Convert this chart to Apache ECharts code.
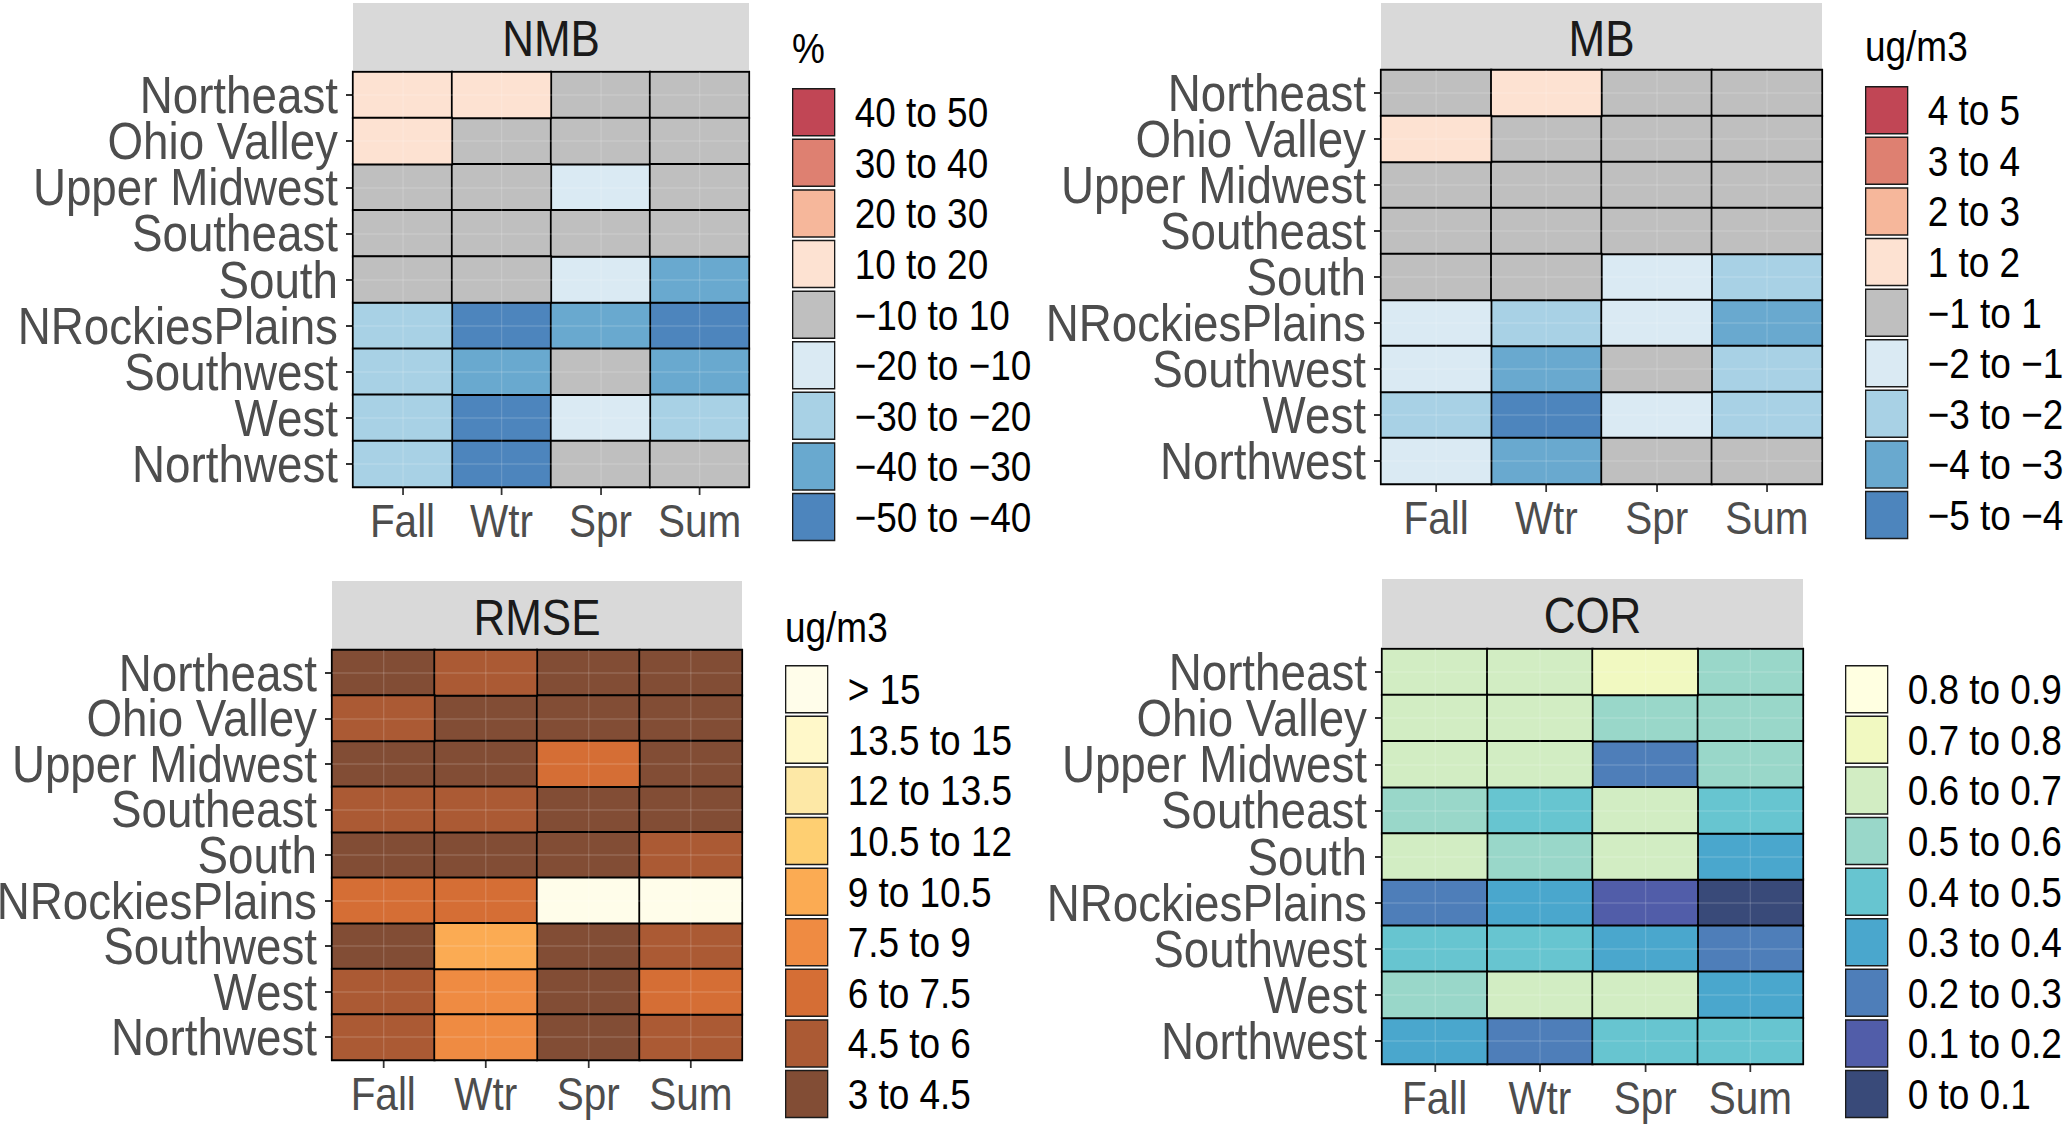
<!DOCTYPE html>
<html>
<head>
<meta charset="utf-8">
<script src="https://cdn.jsdelivr.net/npm/echarts/dist/echarts.min.js"></script>
<style>
html,body{margin:0;padding:0;background:#ffffff;overflow:hidden;width:2067px;height:1124px;}
#chart{width:2349px;height:1124px;transform:scaleX(0.88);transform-origin:0 0;}
</style>
</head>
<body>
<div id="chart"></div>
<script>
// ---------------- data ----------------
const regions = ['Northeast', 'Ohio Valley', 'Upper Midwest', 'Southeast', 'South',
                 'NRockiesPlains', 'Southwest', 'West', 'Northwest'];
const seasons = ['Fall', 'Wtr', 'Spr', 'Sum'];

// NMB (%), rows = regions, cols = seasons
const nmbValues = [
  [14, 12, 4, -5],
  [13, 6, -3, -6],
  [-4, 5, -14, -8],
  [2, 3, -6, -7],
  [-7, -3, -15, -34],
  [-26, -45, -35, -44],
  [-24, -33, -8, -36],
  [-25, -44, -16, -27],
  [-23, -43, -9, -7]
];
// MB (ug/m3)
const mbValues = [
  [0.4, 1.4, -0.3, -0.5],
  [1.3, 0.5, -0.2, -0.6],
  [-0.4, 0.6, -0.8, -0.7],
  [0.2, 0.3, -0.5, -0.6],
  [-0.6, -0.3, -1.4, -2.4],
  [-1.6, -2.5, -1.5, -3.4],
  [-1.5, -3.3, -0.7, -2.6],
  [-2.3, -4.4, -1.6, -2.5],
  [-1.4, -3.5, -0.8, -0.6]
];
// RMSE (ug/m3)
const rmseValues = [
  [4.1, 5.2, 4.0, 4.2],
  [5.0, 4.3, 4.1, 4.4],
  [4.2, 4.4, 6.6, 4.3],
  [5.1, 5.3, 4.2, 4.4],
  [4.3, 4.2, 4.3, 5.2],
  [6.8, 6.9, 16.2, 15.8],
  [4.4, 9.6, 4.1, 5.5],
  [5.4, 8.2, 4.3, 6.9],
  [5.3, 8.4, 4.2, 5.4]
];
// COR
const corValues = [
  [0.66, 0.65, 0.74, 0.56],
  [0.64, 0.63, 0.55, 0.54],
  [0.65, 0.62, 0.26, 0.55],
  [0.57, 0.46, 0.63, 0.45],
  [0.64, 0.53, 0.62, 0.35],
  [0.25, 0.36, 0.15, 0.06],
  [0.44, 0.45, 0.34, 0.24],
  [0.55, 0.66, 0.61, 0.37],
  [0.34, 0.27, 0.44, 0.46]
];

// class breaks and labels (low -> high)
const M = '\u2212';
const nmbBreaks = [-50, -40, -30, -20, -10, 10, 20, 30, 40, 50];
const nmbLabels = [M+'50 to '+M+'40', M+'40 to '+M+'30', M+'30 to '+M+'20', M+'20 to '+M+'10',
                   M+'10 to 10', '10 to 20', '20 to 30', '30 to 40', '40 to 50'];
const mbBreaks = [-5, -4, -3, -2, -1, 1, 2, 3, 4, 5];
const mbLabels = [M+'5 to '+M+'4', M+'4 to '+M+'3', M+'3 to '+M+'2', M+'2 to '+M+'1',
                  M+'1 to 1', '1 to 2', '2 to 3', '3 to 4', '4 to 5'];
const rmseBreaks = [3, 4.5, 6, 7.5, 9, 10.5, 12, 13.5, 15, Infinity];
const rmseLabels = ['3 to 4.5', '4.5 to 6', '6 to 7.5', '7.5 to 9', '9 to 10.5',
                    '10.5 to 12', '12 to 13.5', '13.5 to 15', '> 15'];
const corBreaks = [0, 0.1, 0.2, 0.3, 0.4, 0.5, 0.6, 0.7, 0.8, 0.9];
const corLabels = ['0 to 0.1', '0.1 to 0.2', '0.2 to 0.3', '0.3 to 0.4', '0.4 to 0.5',
                   '0.5 to 0.6', '0.6 to 0.7', '0.7 to 0.8', '0.8 to 0.9'];

const panelTitles = ['NMB', 'MB', 'RMSE', 'COR'];
const unitTitles = ['%', 'ug/m3', 'ug/m3', ''];

// ---------------- styles ----------------
const divColors = ['#4d85bd', '#69a9cf', '#a8d1e5', '#daeaf3', '#bfbfbf',
                   '#fde2d2', '#f6b79b', '#de8071', '#c14655'];
const rmseColors = ['#824d35', '#ab5a34', '#d56e35', '#ef8b42', '#fbab53',
                    '#fecf72', '#fde8a6', '#fff8c9', '#fffdea'];
const corColors = ['#394a79', '#515da9', '#4e7eb9', '#4aa7cd', '#67c5d0',
                   '#99d7c9', '#d2edc3', '#f1f9c1', '#ffffe1'];

const FONT = "'Liberation Sans', Arial, Helvetica, sans-serif";
const SX = 0.88;               // horizontal condensing of the whole drawing (page css)
const X = v => v / SX;         // page pixels -> drawing pixels (horizontal)

const layout = [
  { grid: {x: 353, y: 72, w: 396, h: 415}, strip: {x: 353, y: 3, w: 396, h: 67},
    legend: {x: 792, y: 88}, unit: {x: 792, y: 27} },
  { grid: {x: 1381, y: 70, w: 441, h: 414}, strip: {x: 1381, y: 3, w: 441, h: 66},
    legend: {x: 1865, y: 86}, unit: {x: 1865, y: 25} },
  { grid: {x: 332, y: 650, w: 410, h: 410}, strip: {x: 332, y: 581, w: 410, h: 68},
    legend: {x: 785, y: 665}, unit: {x: 785, y: 606} },
  { grid: {x: 1382, y: 649, w: 421, h: 415}, strip: {x: 1382, y: 579, w: 421, h: 68},
    legend: {x: 1845, y: 665}, unit: {x: 1845, y: 606} }
];

const panels = [
  {values: nmbValues, breaks: nmbBreaks, labels: nmbLabels, colors: divColors},
  {values: mbValues, breaks: mbBreaks, labels: mbLabels, colors: divColors},
  {values: rmseValues, breaks: rmseBreaks, labels: rmseLabels, colors: rmseColors},
  {values: corValues, breaks: corBreaks, labels: corLabels, colors: corColors}
];

function binOf(v, br) {
  for (let i = 0; i < br.length - 1; i++) {
    if (v >= br[i] && v < br[i + 1]) return i;
  }
  return br.length - 2;
}

const grids = [], xAxes = [], yAxes = [], series = [], legends = [], titles = [], graphics = [];

panels.forEach((p, pi) => {
  const L = layout[pi];
  grids.push({left: X(L.grid.x), top: L.grid.y, width: X(L.grid.w), height: L.grid.h,
              containLabel: false, outerBoundsMode: 'none'});
  xAxes.push({
    type: 'category', gridIndex: pi, data: seasons, position: 'bottom',
    axisLine: {show: true, lineStyle: {color: '#000', width: 2}},
    axisTick: {show: true, alignWithLabel: true, length: 8, lineStyle: {color: '#333', width: 2}},
    axisLabel: {fontSize: 46, color: '#4d4d4d', margin: 11, interval: 0, fontFamily: FONT},
    splitLine: {show: false}
  });
  yAxes.push({
    type: 'category', gridIndex: pi, data: regions, inverse: true,
    axisLine: {show: true, lineStyle: {color: '#000', width: 2}},
    axisTick: {show: true, alignWithLabel: true, length: X(7), lineStyle: {color: '#333', width: 2}},
    axisLabel: {fontSize: 52, lineHeight: 46, color: '#4d4d4d', margin: X(15), interval: 0, fontFamily: FONT},
    splitLine: {show: false}
  });
  const buckets = p.labels.map(() => []);
  p.values.forEach((row, ri) => {
    row.forEach((v, si) => {
      buckets[binOf(v, p.breaks)].push([si, ri, v]);
    });
  });
  p.labels.forEach((lab, bi) => {
    series.push({
      type: 'heatmap', name: lab, xAxisIndex: pi, yAxisIndex: pi,
      data: buckets[bi],
      itemStyle: {color: p.colors[bi], borderColor: '#000', borderWidth: 2},
      emphasis: {disabled: true},
      silent: true
    });
  });
  // faint panel grid lines showing through the tiles
  series.push({
    type: 'scatter', name: 'grid' + pi, xAxisIndex: pi, yAxisIndex: pi, data: [],
    silent: true, z: 3,
    markLine: {
      silent: true, symbol: ['none', 'none'], label: {show: false},
      lineStyle: {color: 'rgba(255,255,255,0.16)', width: 1.5, type: 'solid'},
      emphasis: {disabled: true},
      data: seasons.map(s => ({xAxis: s})).concat(regions.map(r => ({yAxis: r})))
    }
  });
  legends.push({
    orient: 'vertical', left: X(L.legend.x), top: L.legend.y, height: 470, padding: 0,
    itemWidth: X(42), itemHeight: 47, itemGap: 2.1, icon: 'rect', selectedMode: false,
    data: p.labels.slice().reverse(),
    textStyle: {fontSize: 42, lineHeight: 44, color: '#000', fontFamily: FONT,
                padding: [0, 0, 0, X(20) - 5]},
    itemStyle: {borderColor: '#1a1a1a', borderWidth: 1.5}
  });
  if (unitTitles[pi]) {
    titles.push({
      text: unitTitles[pi], left: X(L.unit.x), top: L.unit.y, padding: 0,
      textStyle: {fontSize: 42, fontWeight: 'normal', color: '#000', fontFamily: FONT}
    });
  }
  graphics.push({
    type: 'rect', silent: true, z: 0,
    shape: {x: X(L.strip.x), y: L.strip.y, width: X(L.strip.w), height: L.strip.h},
    style: {fill: '#d9d9d9'}
  });
  graphics.push({
    type: 'text', silent: true, z: 1,
    x: X(L.strip.x + L.strip.w / 2), y: L.strip.y + L.strip.h / 2 + 2,
    style: {text: panelTitles[pi], fontSize: 50, fontFamily: FONT, fill: '#1a1a1a',
            align: 'center', verticalAlign: 'middle'}
  });
});

const chart = echarts.init(document.getElementById('chart'), null, {renderer: 'svg'});
chart.setOption({
  backgroundColor: '#ffffff',
  animation: false,
  textStyle: {fontFamily: FONT},
  title: titles,
  grid: grids,
  xAxis: xAxes,
  yAxis: yAxes,
  legend: legends,
  series: series,
  graphic: graphics
});
</script>
</body>
</html>
